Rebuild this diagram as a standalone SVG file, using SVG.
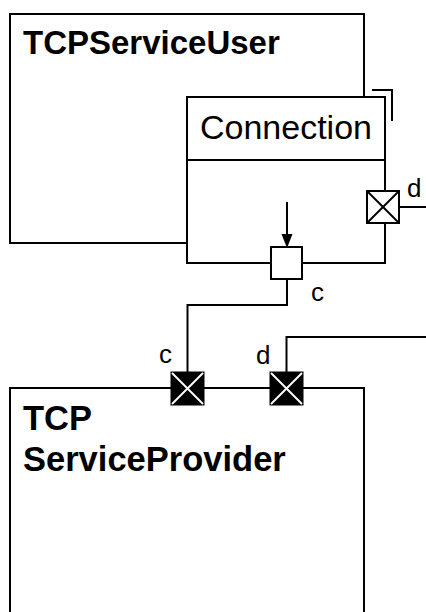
<svg xmlns="http://www.w3.org/2000/svg" width="426" height="612" viewBox="0 0 426 612">
  <style>
    .box { fill: #ffffff; stroke: #000000; stroke-width: 2; }
    .line { fill: none; stroke: #000000; stroke-width: 2; }
    .title { font-family: "Liberation Sans", Arial, sans-serif; font-weight: bold; font-size: 33px; fill: #000000; }
    .title2 { font-family: "Liberation Sans", Arial, sans-serif; font-weight: bold; font-size: 34.5px; fill: #000000; }
    .name { font-family: "Liberation Sans", Arial, sans-serif; font-size: 34px; fill: #000000; }
    .lbl { font-family: "Liberation Sans", Arial, sans-serif; font-size: 26px; fill: #000000; }
    .pw { fill: #ffffff; stroke: #000000; stroke-width: 2; }
    .pb { fill: #000000; stroke: #000000; stroke-width: 1; }
    .xw { stroke: #ffffff; stroke-width: 2; }
    .xb { stroke: #000000; stroke-width: 2; }
    .head { fill: #000000; }
  </style>

  <g id="TCPServiceUser">
    <rect class="box" x="10" y="14" width="354" height="229"/>
    <text class="title" x="23" y="54">TCPServiceUser</text>
  </g>

  <g id="Connection">
    <path class="line" d="M372,90 H392 V121"/>
    <rect class="box" x="187" y="97" width="198" height="166"/>
    <line class="line" x1="187" y1="160" x2="385" y2="160"/>
    <text class="name" x="286" y="139" text-anchor="middle">Connection</text>
  </g>

  <g id="TCPServiceProvider">
    <rect class="box" x="10" y="388" width="354" height="240"/>
    <text class="title2" x="23" y="430">TCP</text>
    <text class="title2" x="23" y="471">ServiceProvider</text>
  </g>

  <g id="connectors">
    <path class="line" d="M399,207 H426"/>
    <line class="line" x1="287" y1="202" x2="287" y2="235"/>
    <path class="head" d="M281.5,234 L292.5,234 L287,248 Z"/>
    <path class="line" d="M287,279 V305 H187.5 V372"/>
    <path class="line" d="M286.5,372 V337 H426"/>
  </g>

  <g id="port-d-connection">
    <rect class="pw" x="367" y="191" width="32" height="32"/>
    <line class="xb" x1="367" y1="191" x2="399" y2="223"/>
    <line class="xb" x1="399" y1="191" x2="367" y2="223"/>
    <text class="lbl" x="407" y="197">d</text>
  </g>

  <g id="port-c-connection">
    <rect class="pw" x="271" y="247" width="31" height="32"/>
    <text class="lbl" x="311" y="301">c</text>
  </g>

  <g id="port-c-provider">
    <rect class="pb" x="171" y="372" width="33" height="33"/>
    <line class="xw" x1="172" y1="373" x2="203" y2="404"/>
    <line class="xw" x1="203" y1="373" x2="172" y2="404"/>
    <text class="lbl" x="159" y="363">c</text>
  </g>

  <g id="port-d-provider">
    <rect class="pb" x="270" y="372" width="33" height="33"/>
    <line class="xw" x1="271" y1="373" x2="302" y2="404"/>
    <line class="xw" x1="302" y1="373" x2="271" y2="404"/>
    <text class="lbl" x="256" y="364">d</text>
  </g>
</svg>
